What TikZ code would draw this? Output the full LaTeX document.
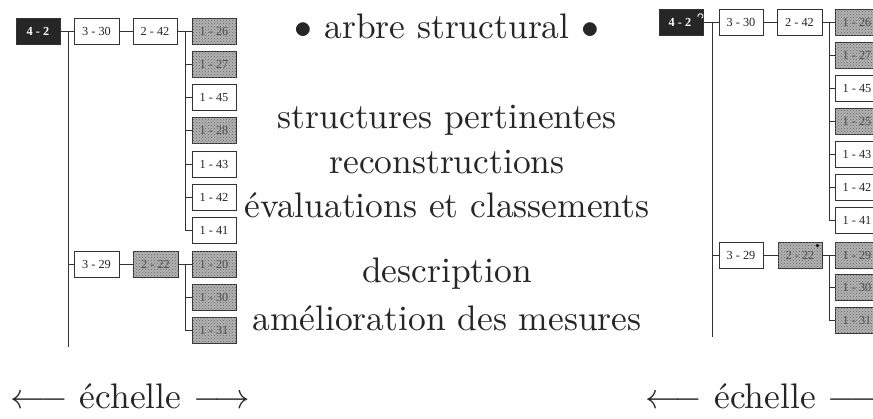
\documentclass[tikz,border=0pt]{standalone}
\usepackage{fontspec}
\newfontfamily\boxfont{Liberation Serif}
\usetikzlibrary{patterns}
\begin{document}
\begin{tikzpicture}[x=1pt,y=-1pt,
  box/.style={draw=black!80, line width=0.9pt, minimum height=26pt, minimum width=44pt,
    inner sep=0pt, font=\boxfont\fontsize{12.3}{14}\selectfont, text=black!85, fill=white},
  shd/.style={box, fill=gray!60, postaction={pattern=crosshatch dots, pattern color=black!60}, text=black!70},
  blk/.style={box, fill=black!85, text=white, font=\boxfont\bfseries\fontsize{12.3}{14}\selectfont},
  wire/.style={draw=black!80, line width=0.9pt},
  big/.style={font=\fontsize{10}{12}\selectfont, scale=3.55, anchor=base, inner sep=0pt, text=black!85},
  pin/.style={fill=black, draw=none}]
\useasboundingbox (0,0) rectangle (873,418);
\clip (0,0) rectangle (873,418);

% ---------------- left tree ----------------
\node[blk] (L42) at (38,31) {4 - 2};
\node[box, minimum width=45pt] (L330) at (96.5,31) {3 - 30};
\node[box] (L242) at (155,31) {2 - 42};
\node[shd] (L126) at (214,31) {1 - 26};
\node[shd] (L127) at (214,64.25) {1 - 27};
\node[box] (L145) at (214,97.5) {1 - 45};
\node[shd] (L128) at (214,130.75) {1 - 28};
\node[box] (L143) at (214,164) {1 - 43};
\node[box] (L142) at (214,197.25) {1 - 42};
\node[box] (L141) at (214,230.5) {1 - 41};
\node[box, minimum width=45pt] (L329) at (96.5,264) {3 - 29};
\node[shd, minimum width=45pt] (L222) at (155.5,264) {2 - 22};
\node[shd] (L120) at (214,264) {1 - 20};
\node[shd] (L130) at (214,297) {1 - 30};
\node[shd] (L131) at (214,330.25) {1 - 31};

\coordinate (Ltrunk) at (68,31);
\coordinate (Lend) at (68,347);
\coordinate (Lbar) at (185,31);
\draw[wire] (L42) -- (L330);
\draw[wire] (Ltrunk) -- (Lend);
\draw[wire] (Ltrunk |- L329) -- (L329);
\draw[wire] (L330) -- (L242);
\draw[wire] (L242) -- (L126);
\draw[wire] (L329) -- (L222);
\draw[wire] (L222) -- (L120);
\draw[wire] (Lbar) -- (Lbar |- L141);
\draw[wire] (Lbar |- L120) -- (Lbar |- L131);
\foreach \n in {L127,L145,L128,L143,L142,L141,L130,L131}
  \draw[wire] (Lbar |- \n) -- (\n.west);

% ---------------- right tree ----------------
\node[blk] (R42) at (681,22) {4 - 2\phantom{\,}};
\node[box] (R330) at (741,22) {3 - 30};
\node[box, minimum width=45pt] (R242) at (799.5,22) {2 - 42};
\node[shd] (R126) at (857,22) {1 - 26};
\node[shd] (R127) at (857,55.1) {1 - 27};
\node[box] (R145) at (857,88.2) {1 - 45};
\node[shd] (R125) at (857,121.3) {1 - 25};
\node[box] (R143) at (857,154.4) {1 - 43};
\node[box] (R142) at (857,187.5) {1 - 42};
\node[box] (R141) at (857,220.6) {1 - 41};
\node[box] (R329) at (741,255) {3 - 29};
\node[shd] (R222) at (800,255) {2 - 22};
\node[shd] (R129) at (857,255) {1 - 29};
\node[shd] (R130) at (857,287.5) {1 - 30};
\node[shd] (R131) at (857,320) {1 - 31};

\coordinate (Rtrunk) at (712,22);
\coordinate (Rend) at (712,337);
\coordinate (Rbar) at (829,22);
\draw[wire] (R42) -- (R330);
\draw[wire] (Rtrunk) -- (Rend);
\draw[wire] (Rtrunk |- R329) -- (R329);
\draw[wire] (R330) -- (R242);
\draw[wire] (R242) -- (R126);
\draw[wire] (R329) -- (R222);
\draw[wire] (R222) -- (R129);
\draw[wire] (Rbar) -- (Rbar |- R141);
\draw[wire] (Rbar |- R129) -- (Rbar |- R131);
\foreach \n in {R127,R145,R125,R143,R142,R141,R130,R131}
  \draw[wire] (Rbar |- \n) -- (\n.west);

% small marks on the right tree
\draw[white, line width=0.9pt] (698,17) arc[start angle=200, end angle=-60, radius=2.5pt];
\foreach \n in {R126,R127,R125,R129,R130,R131}
  \fill[pin] ([xshift=-4pt,yshift=-3pt]\n.north east) circle (1.4pt);
\fill[pin] ([xshift=-5pt,yshift=-4pt]R222.north east) circle (1.8pt);

% ---------------- central text ----------------
\node[big] (t0) at (447,38) {$\bullet$ arbre structural $\bullet$};
\node[big] (t1) at (447,128) {structures pertinentes};
\node[big] (t2) at (447,173) {reconstructions};
\node[big] (t3) at (447,217) {évaluations et classements};
\node[big] (t4) at (447,282) {description};
\node[big] (t5) at (447,330) {amélioration des mesures};

\node[big] (sL) at (130.5,408) {$\longleftarrow$ échelle $\longrightarrow$};
\node[big] (sR) at (765,408) {$\longleftarrow$ échelle $\longrightarrow$};
\end{tikzpicture}
\end{document}
